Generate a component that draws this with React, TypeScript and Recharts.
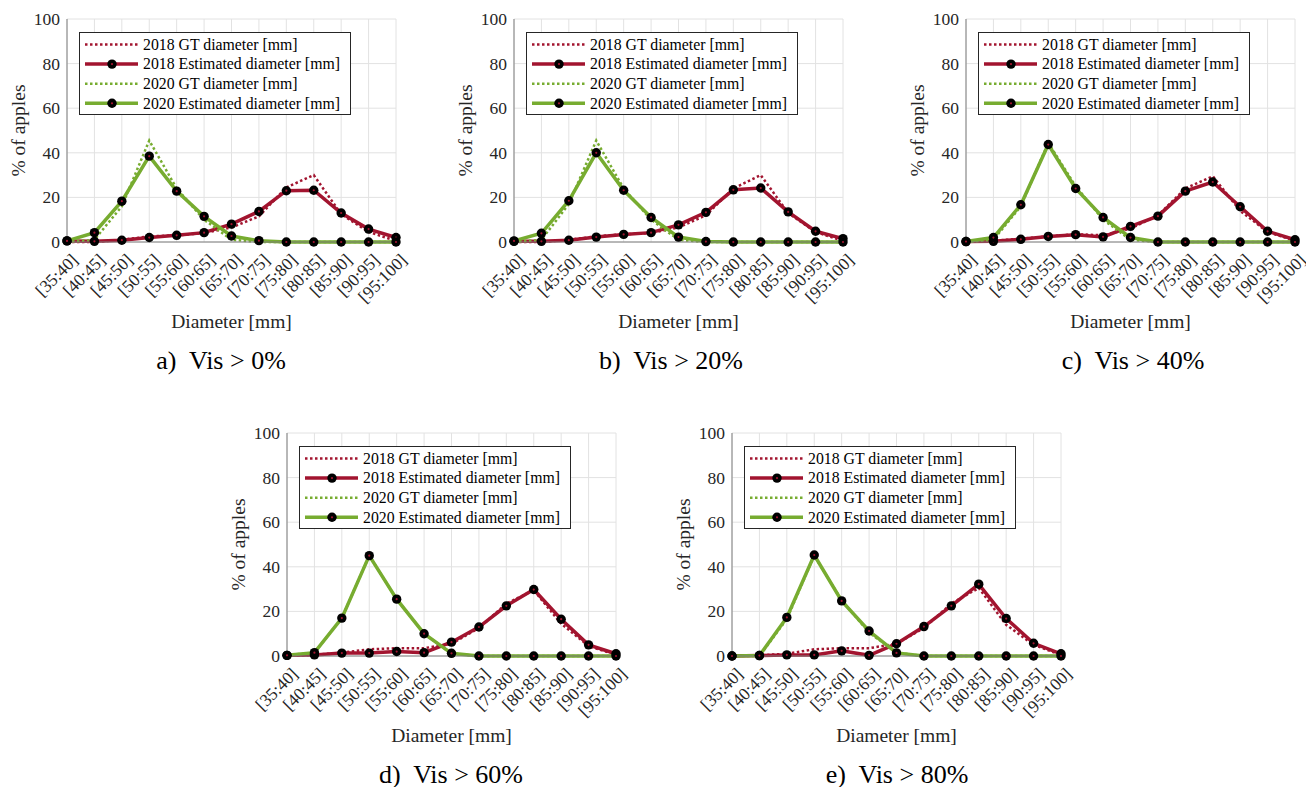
import React from 'react';
import {
  LineChart,
  Line,
  XAxis,
  YAxis,
  CartesianGrid,
  Label,
} from 'recharts';

const FONT = '"Liberation Serif", "Times New Roman", serif';
const RED = '#a2142f';
const GREEN = '#77ac30';
const INK = '#262626';

const CATEGORIES = [
  '[35:40]', '[40:45]', '[45:50]', '[50:55]', '[55:60]', '[60:65]', '[65:70]',
  '[70:75]', '[75:80]', '[80:85]', '[85:90]', '[90:95]', '[95:100]',
];
const Y_TICKS = [0, 20, 40, 60, 80, 100];

// a) Vis > 0%
const A_GT18 = [0, 0, 1, 2.5, 3, 4, 6.5, 11.5, 24.5, 30, 12.5, 4.5, 0.5];
const A_EST18 = [0.5, 0.3, 0.8, 2, 3, 4.2, 8, 13.7, 23, 23.2, 13, 5.8, 2];
const A_GT20 = [0, 1, 16, 45.5, 24, 10, 1, 0, 0, 0, 0, 0, 0];
const A_EST20 = [0.5, 4.2, 18.3, 38.5, 22.8, 11.5, 2.7, 0.6, 0, 0, 0, 0, 0];

// b) Vis > 20%
const B_GT18 = [0, 0, 1, 2.5, 3.5, 4, 6.5, 12, 24, 30, 13, 4.5, 0.5];
const B_EST18 = [0.3, 0.3, 0.8, 2.2, 3.4, 4.2, 7.7, 13.3, 23.4, 24.2, 13.5, 4.8, 1.5];
const B_GT20 = [0, 1, 17, 45.5, 24, 10, 1, 0, 0, 0, 0, 0, 0];
const B_EST20 = [0.5, 3.9, 18.5, 40, 23.2, 11, 2.2, 0.2, 0, 0, 0, 0, 0];

// c) Vis > 40%
const C_GT18 = [0, 0.5, 1.5, 2.5, 3.5, 3, 6, 12, 24, 29.5, 14, 4.5, 0.5];
const C_EST18 = [0.2, 0.3, 1.2, 2.5, 3.3, 2.3, 7, 11.6, 22.8, 26.9, 15.8, 4.8, 1];
const C_GT20 = [0, 1, 16, 44.5, 25, 10, 1, 0, 0, 0, 0, 0, 0];
const C_EST20 = [0.2, 2, 16.7, 43.7, 24, 11, 2, 0, 0, 0, 0, 0, 0];

// d) Vis > 60%
const D_GT18 = [0, 0.5, 1.5, 3, 3.5, 3.5, 5.5, 12.5, 23.5, 29.5, 14.5, 4.5, 0.5];
const D_EST18 = [0.3, 0.5, 1.3, 1.3, 2, 1.5, 6.2, 13, 22.5, 29.8, 16.5, 5, 1];
const D_GT20 = [0.3, 1.5, 17, 45, 25.5, 10, 1, 0, 0, 0, 0, 0, 0];
const D_EST20 = [0.3, 1.5, 17, 45, 25.5, 10, 1.2, 0, 0, 0, 0, 0, 0];

// e) Vis > 80%
const E_GT18 = [0, 0.3, 1, 3, 3.5, 3.5, 5.5, 12.5, 23.5, 30.5, 14, 5, 0.5];
const E_EST18 = [0, 0.2, 0.5, 0.5, 2.3, 0.3, 5.5, 13.2, 22.5, 32.2, 16.8, 5.7, 1];
const E_GT20 = [0, 0, 16.5, 45, 25, 10.5, 1.5, 0, 0, 0, 0, 0, 0];
const E_EST20 = [0, 0.2, 17.3, 45.3, 24.7, 11.2, 1.4, 0, 0, 0, 0, 0, 0];

const SERIES = [
  { key: 'gt18', name: '2018 GT diameter [mm]', color: RED, dotted: true },
  { key: 'est18', name: '2018 Estimated diameter [mm]', color: RED, dotted: false },
  { key: 'gt20', name: '2020 GT diameter [mm]', color: GREEN, dotted: true },
  { key: 'est20', name: '2020 Estimated diameter [mm]', color: GREEN, dotted: false },
];

// plot-area placement of each subplot (left/top of the axes box)
const PANELS = [
  { caption: 'a)  Vis > 0%', left: 67, top: 19, capX: 221, values: [A_GT18, A_EST18, A_GT20, A_EST20] },
  { caption: 'b)  Vis > 20%', left: 514, top: 19, capX: 671, values: [B_GT18, B_EST18, B_GT20, B_EST20] },
  { caption: 'c)  Vis > 40%', left: 966, top: 19, capX: 1133, values: [C_GT18, C_EST18, C_GT20, C_EST20] },
  { caption: 'd)  Vis > 60%', left: 287, top: 433, capX: 451, values: [D_GT18, D_EST18, D_GT20, D_EST20] },
  { caption: 'e)  Vis > 80%', left: 732, top: 433, capX: 897, values: [E_GT18, E_EST18, E_GT20, E_EST20] },
];

const PLOT_W = 329;
const PLOT_H = 223;
const M_LEFT = 60;
const M_TOP = 10;
const M_RIGHT = 20;
const X_AXIS_H = 90;

const txt = { fontFamily: FONT };

const Marker = (p: any) => {
  if (p.cx == null || p.cy == null) return <g key={`m-${p.index}`} />;
  return (
    <g key={`m-${p.index}`}>
      <circle cx={p.cx} cy={p.cy} r={4.7} fill="#000" />
      <circle cx={p.cx} cy={p.cy} r={1.1} fill={RED} />
    </g>
  );
};

const XTick = ({ x, y, payload }: any) => {
  const tx = x + 12;
  const ty = y + 17;
  return (
    <text
      x={tx}
      y={ty}
      transform={`rotate(-45, ${tx}, ${ty})`}
      textAnchor="end"
      fontSize={17.5}
      style={txt}
      fill={INK}
    >
      {payload.value}
    </text>
  );
};

const YTick = ({ x, y, payload }: any) => (
  <text x={x} y={y} dy="0.34em" textAnchor="end" fontSize={17.5} style={txt} fill={INK}>
    {payload.value}
  </text>
);

const Empty = () => <g />;

const LegendBox = () => (
  <svg width={273} height={84} style={{ position: 'absolute', left: M_LEFT + 12, top: M_TOP + 13 }}>
    <rect x={0.5} y={0.5} width={271} height={82} fill="#fff" stroke={INK} strokeWidth={1} />
    {SERIES.map((s, i) => {
      const cy = 12.5 + i * 19.6;
      return (
        <g key={s.key}>
          <line
            x1={6}
            x2={59}
            y1={cy}
            y2={cy}
            stroke={s.color}
            strokeWidth={s.dotted ? 2.5 : 3.5}
            strokeDasharray={s.dotted ? '2.5 2.5' : undefined}
          />
          {!s.dotted && (
            <g>
              <circle cx={33} cy={cy} r={4.7} fill="#000" />
              <circle cx={33} cy={cy} r={1.1} fill={RED} />
            </g>
          )}
          <text x={64} y={cy} dy="0.34em" fontSize={15.8} style={txt} fill="#000">
            {s.name}
          </text>
        </g>
      );
    })}
  </svg>
);

function Panel({ panel }: { panel: (typeof PANELS)[number] }) {
  const data = CATEGORIES.map((cat, i) => {
    const row: Record<string, string | number> = { cat };
    SERIES.forEach((s, k) => {
      row[s.key] = panel.values[k][i];
    });
    return row;
  });

  return (
    <div style={{ position: 'absolute', left: panel.left - M_LEFT, top: panel.top - M_TOP }}>
      <LineChart
        width={M_LEFT + PLOT_W + M_RIGHT}
        height={M_TOP + PLOT_H + X_AXIS_H}
        data={data}
        margin={{ top: M_TOP, right: M_RIGHT, bottom: 0, left: 0 }}
      >
        <CartesianGrid stroke="#e2e2e2" strokeWidth={1} />
        <XAxis
          dataKey="cat"
          height={X_AXIS_H}
          tick={<XTick />}
          tickLine={false}
          tickSize={0}
          interval={0}
          axisLine={{ stroke: '#7f7f7f', strokeWidth: 1 }}
        >
          <Label
            content={({ viewBox }: any) => (
              <text
                x={viewBox.x + viewBox.width / 2}
                y={viewBox.y + 79}
                dy="0.34em"
                textAnchor="middle"
                fontSize={19.5}
                style={txt}
                fill={INK}
              >
                Diameter [mm]
              </text>
            )}
          />
        </XAxis>
        <XAxis
          xAxisId="top"
          dataKey="cat"
          orientation="top"
          height={0}
          mirror
          tick={<Empty />}
          tickSize={4}
          interval={0}
          tickLine={{ stroke: INK }}
          axisLine={{ stroke: '#7f7f7f', strokeWidth: 1 }}
        />
        <YAxis
          type="number"
          domain={[0, 100]}
          ticks={Y_TICKS}
          width={M_LEFT}
          tick={<YTick />}
          tickLine={false}
          tickSize={0}
          tickMargin={7}
          axisLine={{ stroke: '#7f7f7f', strokeWidth: 1 }}
        >
          <Label
            content={({ viewBox }: any) => {
              const cx = viewBox.x + viewBox.width - 49;
              const cy = viewBox.y + viewBox.height / 2;
              return (
                <text
                  x={cx}
                  y={cy}
                  dy="0.34em"
                  transform={`rotate(-90, ${cx}, ${cy})`}
                  textAnchor="middle"
                  fontSize={19.5}
                  style={txt}
                  fill={INK}
                >
                  % of apples
                </text>
              );
            }}
          />
        </YAxis>
        <YAxis
          yAxisId="right"
          orientation="right"
          type="number"
          domain={[0, 100]}
          ticks={Y_TICKS}
          width={0}
          mirror
          tick={<Empty />}
          tickSize={4}
          tickLine={{ stroke: INK }}
          axisLine={{ stroke: '#7f7f7f', strokeWidth: 1 }}
        />
        {SERIES.map((s) => (
          <Line
            key={s.key}
            type="linear"
            dataKey={s.key}
            name={s.name}
            stroke={s.color}
            strokeWidth={s.dotted ? 2.5 : 3.5}
            strokeDasharray={s.dotted ? '2.5 2.5' : undefined}
            dot={s.dotted ? false : Marker}
            activeDot={false}
            isAnimationActive={false}
          />
        ))}
      </LineChart>
      <LegendBox />
      <div
        style={{
          position: 'absolute',
          left: panel.capX - (panel.left - M_LEFT) - 150,
          top: PLOT_H + M_TOP + 119 - 12,
          width: 300,
          height: 24,
          lineHeight: '24px',
          textAlign: 'center',
          whiteSpace: 'pre',
          fontFamily: FONT,
          fontSize: 26,
          color: '#000',
        }}
      >
        {panel.caption}
      </div>
    </div>
  );
}

export default function App() {
  return (
    <div
      style={{
        position: 'absolute',
        left: 0,
        top: 0,
        width: 1306,
        height: 787,
        background: '#fff',
        overflow: 'hidden',
      }}
    >
      {PANELS.map((p) => (
        <Panel key={p.caption} panel={p} />
      ))}
    </div>
  );
}
